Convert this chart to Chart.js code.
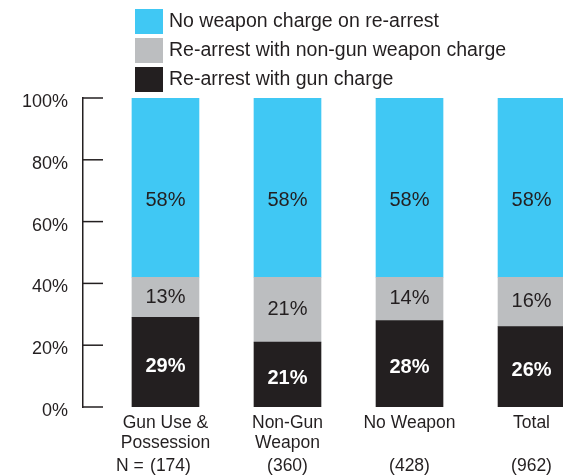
<!DOCTYPE html>
<html>
<head>
<meta charset="utf-8">
<script src="https://cdn.jsdelivr.net/npm/chart.js@4/dist/chart.umd.min.js"></script>
<style>
  html, body { margin: 0; padding: 0; background: #fff; overflow: hidden; }
  canvas { display: block; }
</style>
</head>
<body>
<canvas id="rearrestChart" width="563" height="475"></canvas>
<script>
// chart data
const categories = [["Gun Use &", "Possession"], ["Non-Gun", "Weapon"], ["No Weapon"], ["Total"]];
const sampleSizes = [174, 360, 428, 962];
const gunCharge = [29, 21, 28, 26];
const nonGunCharge = [13, 21, 14, 16];
const noWeaponCharge = [58, 58, 58, 58];
const seriesLabels = ["Re-arrest with gun charge", "Re-arrest with non-gun weapon charge", "No weapon charge on re-arrest"];

const FONT = "'Liberation Sans', Arial, Helvetica, sans-serif";
const INK = "#231F20";
const colors = [INK, "#BCBEC0", "#40C8F4"];
const labelColors = ["#ffffff", INK, INK];

function toPoints(values) {
    return values.map((v, i) => ({ x: i, y: v }));
}

// small tick marks on the inside of the y axis
const axisTicks = {
    id: "axisTicks",
    afterDraw(chart) {
        const ctx = chart.ctx;
        const yScale = chart.scales.y;
        const left = chart.chartArea.left;
        ctx.save();
        ctx.strokeStyle = INK;
        ctx.lineWidth = 1.5;
        yScale.ticks.forEach(t => {
            const y = yScale.getPixelForValue(t.value);
            ctx.beginPath();
            ctx.moveTo(left, y);
            ctx.lineTo(left + 20, y);
            ctx.stroke();
        });
        ctx.restore();
    }
};

// percentage labels inside the bars
const barLabels = {
    id: "barLabels",
    afterDatasetsDraw(chart) {
        const ctx = chart.ctx;
        ctx.save();
        ctx.textAlign = "center";
        ctx.textBaseline = "middle";
        chart.data.datasets.forEach((ds, di) => {
            const meta = chart.getDatasetMeta(di);
            ctx.fillStyle = labelColors[di];
            ctx.font = (di === 0 ? "bold " : "") + "20px " + FONT;
            meta.data.forEach((bar, i) => {
                const p = bar.getProps(["x", "y", "base"], true);
                let cy = (p.y + p.base) / 2;
                if (di === 2) cy += 13;
                if (di === 0) cy += 4;
                ctx.fillText(ds.data[i].y + "%", p.x, cy);
            });
        });
        ctx.restore();
    }
};

// vertical legend above the plot and the N row under the labels
const extras = {
    id: "extras",
    afterDraw(chart) {
        const ctx = chart.ctx;
        const xScale = chart.scales.x;
        ctx.save();
        ctx.textBaseline = "middle";
        ctx.font = "19.5px " + FONT;
        const order = [2, 1, 0];
        order.forEach((di, row) => {
            const top = 9 + row * 29;
            ctx.fillStyle = colors[di];
            ctx.fillRect(135, top, 28, 25);
            ctx.fillStyle = INK;
            ctx.textAlign = "left";
            ctx.fillText(chart.data.datasets[di].label, 169, top + 13);
        });

        ctx.font = "17.5px " + FONT;
        const rowY = chart.chartArea.bottom + 59;
        sampleSizes.forEach((n, i) => {
            const x = xScale.getPixelForValue(i);
            ctx.textAlign = "center";
            ctx.fillText("(" + n + ")", x + (i === 0 ? 5 : 0), rowY);
            if (i === 0) {
                ctx.textAlign = "right";
                ctx.fillText("N = ", x - 17, rowY);
            }
        });
        ctx.restore();
    }
};

const ctx = document.getElementById("rearrestChart").getContext("2d");
new Chart(ctx, {
    type: "bar",
    data: {
        datasets: [
            { label: seriesLabels[0], data: toPoints(gunCharge), backgroundColor: colors[0] },
            { label: seriesLabels[1], data: toPoints(nonGunCharge), backgroundColor: colors[1] },
            { label: seriesLabels[2], data: toPoints(noWeaponCharge), backgroundColor: colors[2] }
        ]
    },
    options: {
        responsive: false,
        animation: false,
        devicePixelRatio: 1,
        layout: { padding: { top: 98, left: 0, right: 0, bottom: 0 } },
        barThickness: 67,
        plugins: {
            legend: { display: false },
            tooltip: { enabled: false }
        },
        scales: {
            x: {
                type: "linear",
                stacked: true,
                offset: false,
                min: -0.676,
                max: 3.258,
                grid: { display: false },
                border: { display: false },
                afterBuildTicks(scale) {
                    scale.ticks = categories.map((c, i) => ({ value: i }));
                },
                afterFit(scale) { scale.height = 68; },
                ticks: {
                    autoSkip: false,
                    maxRotation: 0,
                    padding: -1,
                    color: INK,
                    font: { family: FONT, size: 17.5, lineHeight: 1.1 },
                    callback: value => categories[value]
                }
            },
            y: {
                stacked: true,
                min: 0,
                max: 100,
                grid: { display: false, drawTicks: false },
                border: { display: true, color: INK, width: 1.5 },
                afterFit(scale) { scale.width = 83; },
                ticks: {
                    stepSize: 20,
                    padding: 15,
                    labelOffset: 4,
                    color: INK,
                    font: { family: FONT, size: 18 },
                    callback: value => value + "%"
                }
            }
        }
    },
    plugins: [axisTicks, barLabels, extras]
});
</script>
</body>
</html>
